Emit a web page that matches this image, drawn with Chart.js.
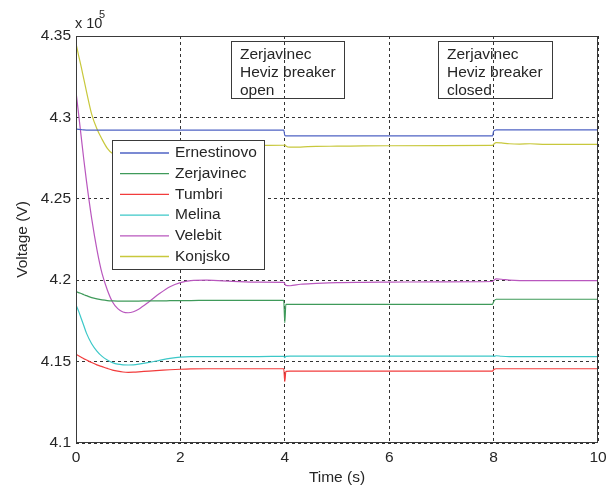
<!DOCTYPE html>
<html lang="en">
<head>
  <meta charset="UTF-8">
  <title>Voltage (V) vs Time (s)</title>
  <script src="https://cdn.jsdelivr.net/npm/chart.js"></script>
  <style>
    body {
      margin: 0;
      background: #fff;
    }
    .wrap {
      width: 616px;
      height: 488px;
      position: relative;
    }
  </style>
</head>
<body>
  <div class="wrap">
    <canvas id="voltChart"></canvas>
  </div>

  <script>
    // time axis (s), shared by all buses
    const timeS = [0, 0.05, 0.1, 0.15, 0.2, 0.3, 0.4, 0.5, 0.6, 0.7, 0.8, 0.9, 1.0, 1.1, 1.2, 1.4, 1.6, 1.8, 2.0, 2.2, 2.5, 3.0, 3.5, 3.98,
                   4.0, 4.02, 4.1, 4.3, 4.6, 5.0, 5.5, 6.0, 7.0, 7.98, 8.0, 8.05, 8.15, 8.3, 8.5, 8.7, 9.0, 10.0];

    // bus voltages, x 10^5 V
    const ernestinovo = [4.2928, 4.2927, 4.2925, 4.2923, 4.2922, 4.2922, 4.2922, 4.2922, 4.2922, 4.2922, 4.2922, 4.2922, 4.2922, 4.2922, 4.2922, 4.2922, 4.2922, 4.2922, 4.2922, 4.2922, 4.2922, 4.2922, 4.2922, 4.2922,
                         4.2890, 4.2886, 4.2886, 4.2886, 4.2886, 4.2886, 4.2886, 4.2886, 4.2886, 4.2886, 4.2915, 4.2923, 4.2923, 4.2923, 4.2923, 4.2923, 4.2923, 4.2923];
    const zerjavinec = [4.1930, 4.1924, 4.1918, 4.1911, 4.1905, 4.1893, 4.1885, 4.1879, 4.1875, 4.1873, 4.1872, 4.1872, 4.1872, 4.1872, 4.1872, 4.1873, 4.1873, 4.1874, 4.1875, 4.1875, 4.1876, 4.1876, 4.1876, 4.1876,
                        4.1739, 4.1852, 4.1852, 4.1852, 4.1852, 4.1852, 4.1852, 4.1852, 4.1852, 4.1852, 4.1868, 4.1883, 4.1883, 4.1883, 4.1883, 4.1883, 4.1883, 4.1883];
    const tumbri = [4.1545, 4.1536, 4.1527, 4.1518, 4.1510, 4.1494, 4.1480, 4.1469, 4.1458, 4.1448, 4.1441, 4.1436, 4.1434, 4.1435, 4.1437, 4.1442, 4.1446, 4.1450, 4.1453, 4.1455, 4.1456, 4.1456, 4.1456, 4.1456,
                    4.1377, 4.1440, 4.1442, 4.1442, 4.1442, 4.1442, 4.1442, 4.1442, 4.1442, 4.1442, 4.1450, 4.1456, 4.1456, 4.1456, 4.1456, 4.1456, 4.1456, 4.1456];
    const melina = [4.1848, 4.1810, 4.1765, 4.1720, 4.1675, 4.1610, 4.1565, 4.1532, 4.1510, 4.1494, 4.1484, 4.1480, 4.1479, 4.1480, 4.1484, 4.1495, 4.1508, 4.1520, 4.1528, 4.1531, 4.1531, 4.1531, 4.1531, 4.1532,
                    4.1525, 4.1532, 4.1534, 4.1534, 4.1534, 4.1534, 4.1534, 4.1534, 4.1534, 4.1534, 4.1532, 4.1536, 4.1533, 4.1531, 4.1531, 4.1531, 4.1531, 4.1531];
    const velebit = [4.3158, 4.3020, 4.2880, 4.2740, 4.2610, 4.2380, 4.2190, 4.2040, 4.1940, 4.1866, 4.1825, 4.1805, 4.1800, 4.1806, 4.1822, 4.1868, 4.1918, 4.1960, 4.1985, 4.1997, 4.2000, 4.1993, 4.1988, 4.1987,
                     4.1978, 4.1968, 4.1966, 4.1975, 4.1980, 4.1985, 4.1987, 4.1988, 4.1990, 4.1992, 4.1998, 4.2008, 4.2006, 4.2000, 4.1997, 4.1997, 4.1997, 4.1997];
    const konjsko = [4.3455, 4.3380, 4.3310, 4.3235, 4.3160, 4.3020, 4.2930, 4.2865, 4.2810, 4.2778, 4.2768, 4.2766, 4.2768, 4.2772, 4.2776, 4.2785, 4.2795, 4.2803, 4.2810, 4.2815, 4.2820, 4.2825, 4.2828, 4.2829,
                     4.2832, 4.2825, 4.2817, 4.2818, 4.2822, 4.2823, 4.2825, 4.2826, 4.2827, 4.2828, 4.2835, 4.2845, 4.2843, 4.2838, 4.2836, 4.2838, 4.2834, 4.2834];

    const busNames = ['Ernestinovo', 'Zerjavinec', 'Tumbri', 'Melina', 'Velebit', 'Konjsko'];
    const busValues = [ernestinovo, zerjavinec, tumbri, melina, velebit, konjsko];
    const busColors = ['#4f63c4', '#3f9a5a', '#f23c3c', '#3cc8c8', '#b957be', '#c8c83c'];

    const yTicks = [4.1, 4.15, 4.2, 4.25, 4.3, 4.35];
    const xTicks = [0, 2, 4, 6, 8, 10];

    const notes = [
      ['Zerjavinec', 'Heviz breaker', 'open'],
      ['Zerjavinec', 'Heviz breaker', 'closed']
    ];

    const FONT = '"Liberation Sans", Arial, sans-serif';
    const TEXT = '#262626';

    // frame, legend, text boxes and the exponent, drawn over the plot
    const extras = {
      id: 'extras',
      afterDraw(chart) {
        const ctx = chart.ctx;
        const a = chart.chartArea;
        ctx.save();

        // axes box
        ctx.strokeStyle = '#3a3a3a';
        ctx.lineWidth = 1;
        ctx.setLineDash([]);
        ctx.strokeRect(a.left + 0.5, a.top + 0.5, a.right - a.left - 1, a.bottom - a.top - 1);

        // x 10^5
        ctx.fillStyle = TEXT;
        ctx.textAlign = 'left';
        ctx.textBaseline = 'alphabetic';
        ctx.font = '14.5px ' + FONT;
        ctx.fillText('x 10', a.left - 1, 28);
        ctx.font = '11px ' + FONT;
        ctx.fillText('5', a.left + 23, 18);

        // breaker notes
        const boxes = [
          { x: 231, y: 41, w: 113, h: 57 },
          { x: 438, y: 41, w: 114, h: 57 }
        ];
        ctx.font = '15.5px ' + FONT;
        ctx.textBaseline = 'middle';
        boxes.forEach((b, i) => {
          ctx.strokeStyle = '#3a3a3a';
          ctx.strokeRect(b.x + 0.5, b.y + 0.5, b.w, b.h);
          ctx.fillStyle = TEXT;
          notes[i].forEach((line, k) => {
            ctx.fillText(line, b.x + 9, b.y + 13.5 + k * 18.3);
          });
        });

        // legend
        const lg = { x: a.left + 36, y: a.top + 104, w: 152, h: 129 };
        ctx.fillStyle = '#fff';
        ctx.fillRect(lg.x, lg.y, lg.w, lg.h);
        ctx.strokeStyle = '#3a3a3a';
        ctx.strokeRect(lg.x + 0.5, lg.y + 0.5, lg.w, lg.h);
        chart.data.datasets.forEach((ds, i) => {
          const yy = lg.y + 13 + i * 20.7;
          ctx.strokeStyle = ds.borderColor;
          ctx.lineWidth = 1.3;
          ctx.beginPath();
          ctx.moveTo(lg.x + 8, yy);
          ctx.lineTo(lg.x + 57, yy);
          ctx.stroke();
          ctx.fillStyle = TEXT;
          ctx.fillText(ds.label, lg.x + 63, yy);
        });

        ctx.restore();
      }
    };

    new Chart(document.getElementById('voltChart'), {
      type: 'line',
      data: {
        datasets: busNames.map((name, i) => ({
          label: name,
          data: timeS.map((t, j) => ({ x: t, y: busValues[i][j] })),
          borderColor: busColors[i],
          borderWidth: 1.2,
          pointRadius: 0,
          cubicInterpolationMode: 'monotone',
          fill: false
        }))
      },
      options: {
        responsive: true,
        maintainAspectRatio: false,
        animation: false,
        layout: { padding: { top: 36, right: 18, left: 0, bottom: 0 } },
        plugins: {
          legend: { display: false },
          tooltip: { enabled: false }
        },
        scales: {
          x: {
            type: 'linear',
            min: 0,
            max: 10,
            afterFit: s => { s.height = 45; },
            afterBuildTicks: s => { s.ticks = xTicks.map(v => ({ value: v })); },
            ticks: {
              padding: 5,
              color: TEXT,
              font: { family: FONT, size: 15.5 },
              callback: v => String(v)
            },
            grid: { color: '#333', lineWidth: 1, drawTicks: false },
            border: { display: false, dash: [3, 3] },
            title: {
              display: true,
              text: 'Time (s)',
              color: TEXT,
              font: { family: FONT, size: 15.5 },
              padding: { top: 0, bottom: 1 }
            }
          },
          y: {
            min: 4.1,
            max: 4.35,
            afterFit: s => { s.width = 76; },
            afterBuildTicks: s => { s.ticks = yTicks.map(v => ({ value: v })); },
            ticks: {
              padding: 5,
              color: TEXT,
              font: { family: FONT, size: 15.5 },
              callback: v => String(parseFloat(v.toFixed(2)))
            },
            grid: { color: '#333', lineWidth: 1, drawTicks: false },
            border: { display: false, dash: [3, 3] },
            title: {
              display: true,
              text: 'Voltage (V)',
              color: TEXT,
              font: { family: FONT, size: 15.5 },
              padding: { top: 13, bottom: 0 }
            }
          }
        }
      },
      plugins: [extras]
    });
  </script>
</body>
</html>
